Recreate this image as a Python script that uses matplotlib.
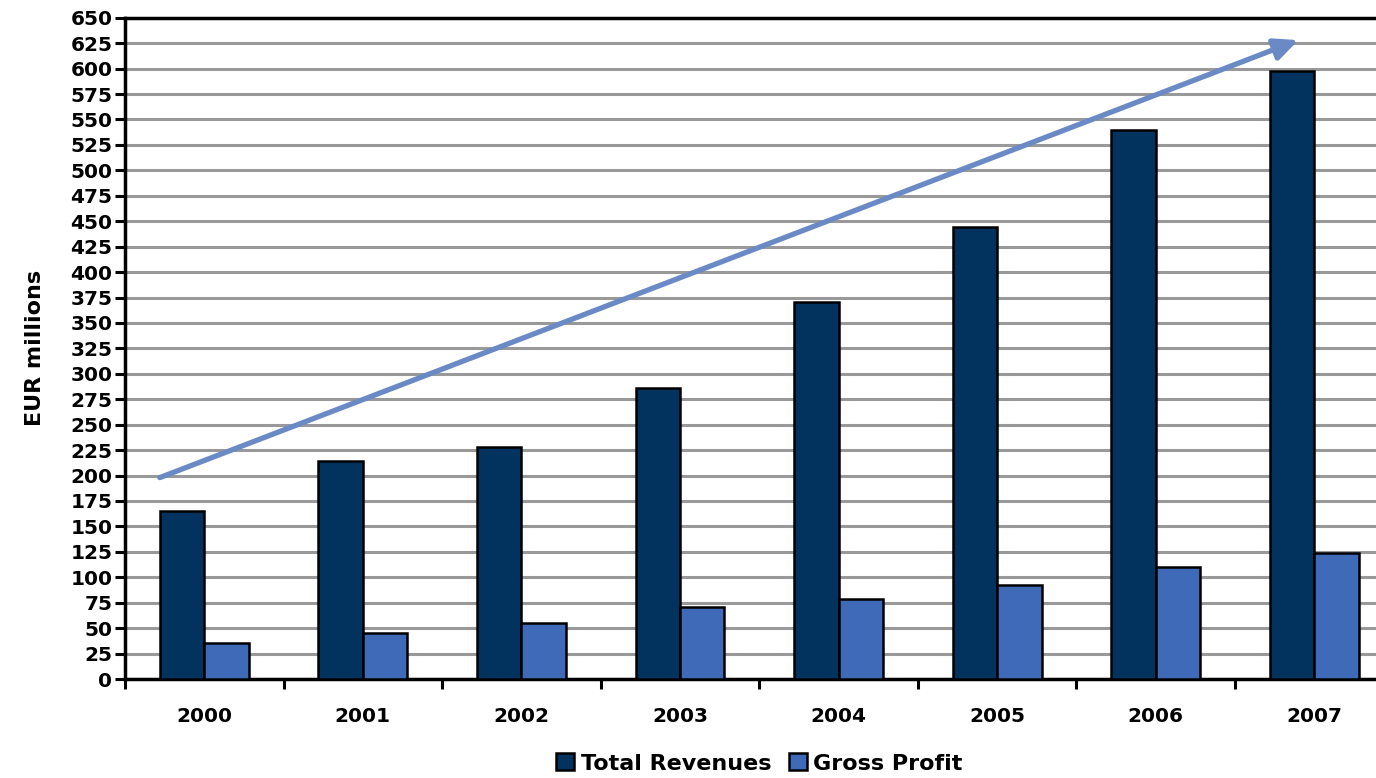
import matplotlib.pyplot as plt
import numpy as np

years = ["2000", "2001", "2002", "2003", "2004", "2005", "2006", "2007"]
total_revenues = [165, 214, 228, 286, 371, 444, 540, 598]
gross_profit = [35, 45, 55, 71, 79, 92, 110, 124]

# trend arrow, in (category position, EUR millions)
trend_start = (-0.28, 198)
trend_end = (6.9, 628)

plt.rcParams['font.family'] = ['DejaVu Sans']
plt.rcParams['font.weight'] = 'bold'

fig = plt.figure(figsize=(13.76, 7.78), dpi=100)
ax = fig.add_axes([0.0908, 0.1272, 0.922, 0.85])

x = np.arange(len(years))
w = 0.28
ax.bar(x - w / 2, total_revenues, w, color='#02335f', edgecolor='black',
       linewidth=1.8, label='Total Revenues', zorder=3)
ax.bar(x + w / 2, gross_profit, w, color='#3e6ab8', edgecolor='black',
       linewidth=1.8, label='Gross Profit', zorder=3)

ax.annotate('', xy=trend_end, xytext=trend_start,
            arrowprops=dict(arrowstyle='-|>,head_length=0.65,head_width=0.3',
                            mutation_scale=22, color='#6a8ac6', lw=3.8,
                            shrinkA=0, shrinkB=0),
            zorder=4)

ax.set_xlim(-0.5, len(years) - 0.5)
ax.set_ylim(0, 650)
ax.set_yticks(np.arange(0, 651, 25))
ax.yaxis.grid(True, color='#999999', linewidth=2.2, zorder=0)
ax.set_axisbelow(True)

ax.set_xticks(x)
ax.set_xticklabels(years, fontsize=14.5, fontweight='bold')
ax.set_xticks(np.arange(-0.5, len(years), 1), minor=True)
ax.tick_params(axis='x', which='major', length=0, pad=20)
ax.tick_params(axis='x', which='minor', length=7, width=2.2, direction='out')
ax.tick_params(axis='y', length=7, width=2.2, labelsize=14.5, pad=2)
for lab in ax.get_yticklabels():
    lab.set_fontweight('bold')

for side in ['left', 'bottom', 'top']:
    ax.spines[side].set_linewidth(2.5)
ax.spines['right'].set_visible(False)

ax.set_ylabel('EUR millions', fontsize=16, fontweight='bold', labelpad=18)

fig.legend(loc='lower center', bbox_to_anchor=(0.552, -0.02), ncol=2,
           frameon=False, handlelength=0.8, handleheight=0.8,
           handletextpad=0.3, columnspacing=0.8,
           prop={'weight': 'bold', 'size': 16})

fig.savefig('out.png', dpi=100)
